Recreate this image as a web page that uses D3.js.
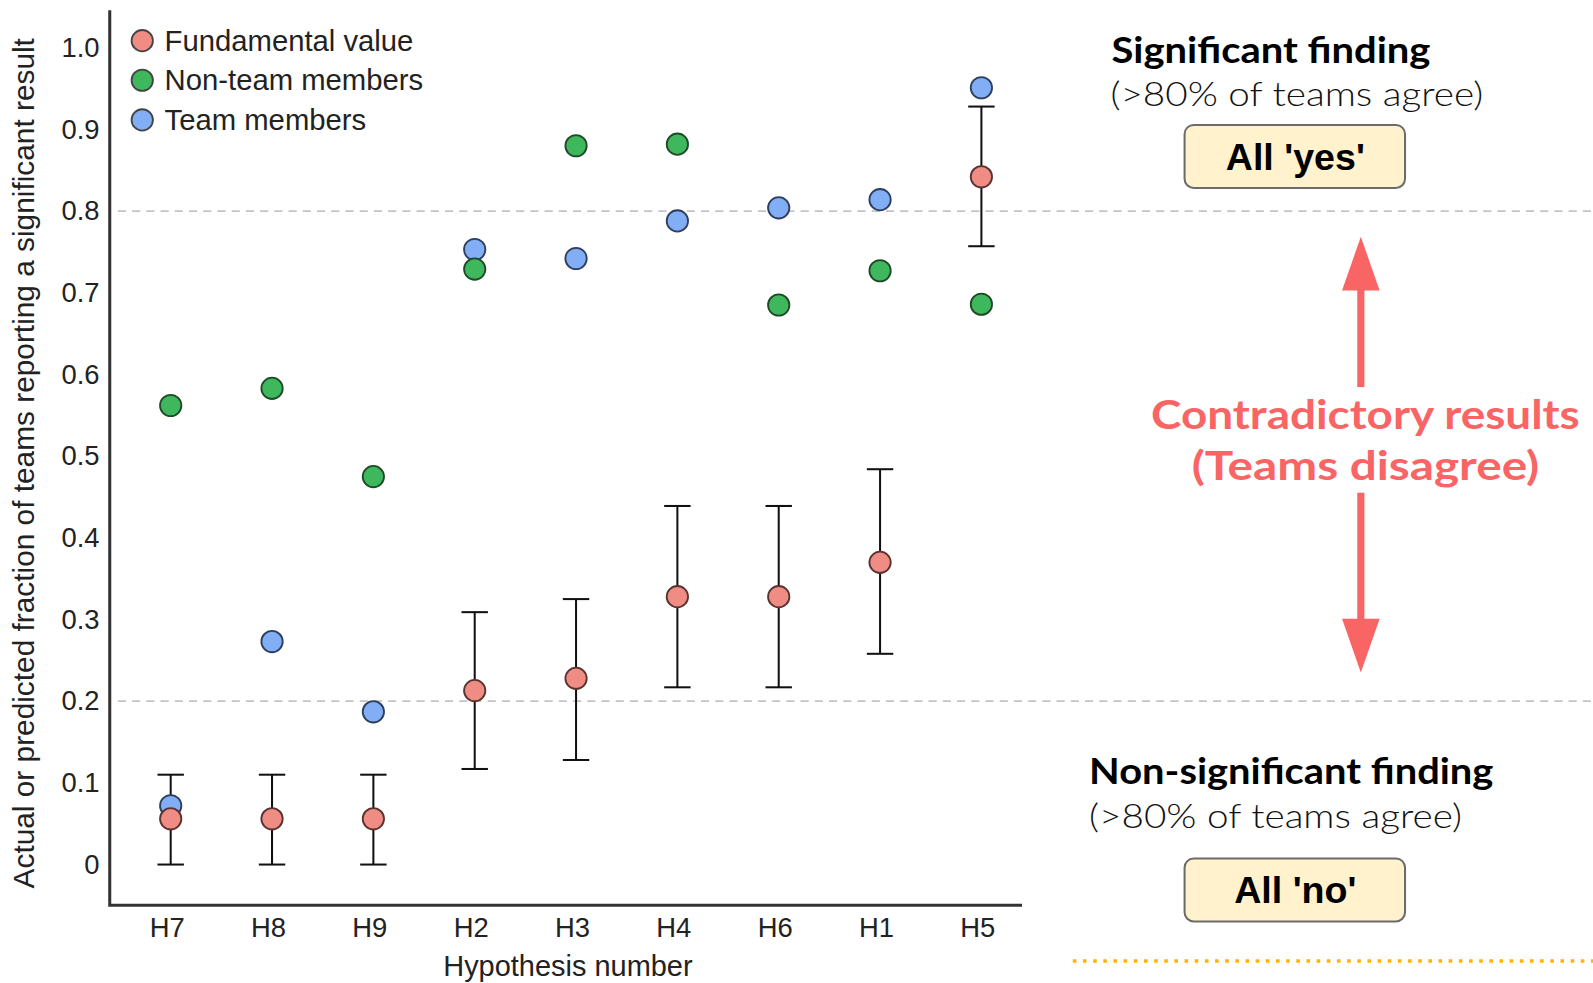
<!DOCTYPE html>
<html>
<head>
<meta charset="utf-8">
<script src="https://cdnjs.cloudflare.com/ajax/libs/d3/7.8.5/d3.min.js"></script>
<style>
  body { margin: 0; background: #fff; }
  svg { display: block; }
</style>
</head>
<body>
<svg id="chart" width="1593" height="983" viewBox="0 0 1568 967.6"></svg>
<script>
// hypotheses in plotted order
const hypotheses = ["H7", "H8", "H9", "H2", "H3", "H4", "H6", "H1", "H5"];
const fundamental = [0.056, 0.056, 0.056, 0.213, 0.228, 0.328, 0.328, 0.370, 0.842];
const fundLow =     [0.0,   0.0,   0.0,   0.117, 0.128, 0.217, 0.217, 0.258, 0.757];
const fundHigh =    [0.11,  0.11,  0.11,  0.309, 0.325, 0.439, 0.439, 0.484, 0.928];
const nonTeam =     [0.562, 0.583, 0.475, 0.729, 0.880, 0.882, 0.685, 0.727, 0.686];
const teamMembers = [0.072, 0.273, 0.187, 0.753, 0.742, 0.788, 0.804, 0.814, 0.951];
const yTicks = [0, 0.1, 0.2, 0.3, 0.4, 0.5, 0.6, 0.7, 0.8, 0.9, 1.0];
const thresholds = [0.2, 0.8];
const legendItems = ["Fundamental value", "Non-team members", "Team members"];

const colors = { fund: "#ef8c84", non: "#3fb75c", team: "#82aef5" };
const legendColors = [colors.fund, colors.non, colors.team];

const svg = d3.select("#chart");
const sans = "'Liberation Sans', Arial, Helvetica, sans-serif";
const raleway = "Lato, 'Open Sans', sans-serif";

let x = d3.scalePoint().domain(hypotheses).range([168, 966]);
let y = d3.scaleLinear().domain([0, 1]).range([851, 47]);

// dashed threshold lines, run across the whole picture
svg.selectAll(".thr").data(thresholds).enter()
  .append("line")
  .attr("x1", 116).attr("x2", 1568)
  .attr("y1", d => y(d)).attr("y2", d => y(d))
  .attr("stroke", "#c4c4c4").attr("stroke-width", 1.6)
  .attr("stroke-dasharray", "8,6");

// axes (labels only, no ticks)
let yAxis = svg.append("g")
  .attr("transform", "translate(108,0)")
  .call(d3.axisLeft(y).tickValues(yTicks).tickSize(0).tickPadding(10)
    .tickFormat(d => d === 0 ? "0" : d3.format(".1f")(d)));
yAxis.select(".domain").remove();
yAxis.selectAll("text").style("font-family", sans).style("font-size", "27px").attr("fill", "#222");

let xAxis = svg.append("g")
  .attr("transform", "translate(0,891)")
  .call(d3.axisBottom(x).tickSize(0).tickPadding(12));
xAxis.select(".domain").remove();
xAxis.selectAll("text").style("font-family", sans).style("font-size", "27px").attr("fill", "#222")
  .attr("dx", -4);

// axis lines
svg.append("path")
  .attr("d", "M108,10V891H1006")
  .attr("fill", "none").attr("stroke", "#333").attr("stroke-width", 3);

// axis titles
svg.append("text")
  .attr("transform", "translate(33,456) rotate(-90)")
  .attr("text-anchor", "middle")
  .style("font-family", sans).style("font-size", "29px").attr("fill", "#222")
  .attr("textLength", 837).attr("lengthAdjust", "spacingAndGlyphs")
  .text("Actual or predicted fraction of teams reporting a significant result");

svg.append("text")
  .attr("x", 559).attr("y", 961)
  .attr("text-anchor", "middle")
  .style("font-family", sans).style("font-size", "28.5px").attr("fill", "#222")
  .text("Hypothesis number");

// error bars for fundamental value
let bars = svg.append("g").attr("stroke", "#111").attr("stroke-width", 2);
hypotheses.forEach((h, i) => {
  let cx = x(h);
  bars.append("line").attr("x1", cx).attr("x2", cx).attr("y1", y(fundLow[i])).attr("y2", y(fundHigh[i]));
  bars.append("line").attr("x1", cx - 13).attr("x2", cx + 13).attr("y1", y(fundLow[i])).attr("y2", y(fundLow[i]));
  bars.append("line").attr("x1", cx - 13).attr("x2", cx + 13).attr("y1", y(fundHigh[i])).attr("y2", y(fundHigh[i]));
});

function drawDots(values, fill, stroke) {
  svg.append("g").selectAll("circle").data(values).enter()
    .append("circle")
    .attr("cx", (d, i) => x(hypotheses[i]))
    .attr("cy", d => y(d))
    .attr("r", 10.5)
    .attr("fill", fill)
    .attr("stroke", stroke)
    .attr("stroke-width", 1.8);
}
drawDots(teamMembers, colors.team, "#2d3f5c");
drawDots(nonTeam, colors.non, "#1f4a2a");
drawDots(fundamental, colors.fund, "#5a3330");

// legend
let legend = svg.append("g");
legendItems.forEach((t, i) => {
  legend.append("circle").attr("cx", 140).attr("cy", 40 + i * 39).attr("r", 10.5)
    .attr("fill", legendColors[i]).attr("stroke", "#444").attr("stroke-width", 1.8);
  legend.append("text").attr("x", 162).attr("y", 40 + i * 39).attr("dy", "0.35em")
    .style("font-family", sans).style("font-size", "28.8px").attr("fill", "#222").text(t);
});

// right-side annotations
function label(txt, xPos, yPos, len, weight, size, fill, anchor) {
  svg.append("text").attr("x", xPos).attr("y", yPos)
    .attr("text-anchor", anchor || "start")
    .attr("textLength", len).attr("lengthAdjust", "spacingAndGlyphs")
    .style("font-family", raleway).style("font-weight", weight).style("font-size", size + "px")
    .attr("fill", fill).text(txt);
}
function box(txt, yTop) {
  svg.append("rect").attr("x", 1166).attr("y", yTop).attr("width", 217).attr("height", 62)
    .attr("rx", 9).attr("fill", "#fff2cc").attr("stroke", "#6b6b6b").attr("stroke-width", 2);
  svg.append("text").attr("x", 1275).attr("y", yTop + 31).attr("dy", "0.36em")
    .attr("text-anchor", "middle")
    .style("font-family", sans).style("font-weight", 700).style("font-size", "37px")
    .attr("fill", "#000").text(txt);
}

label("Significant finding", 1094, 62, 314, 700, 35, "#000");
label("(>80% of teams agree)", 1093, 104, 367, 300, 32, "#111");
box("All 'yes'", 123);

label("Non-significant finding", 1072, 772, 398, 700, 35, "#000");
label("(>80% of teams agree)", 1072, 815, 367, 300, 32, "#111");
box("All 'no'", 845);

// contradictory arrows
const arrowRed = "#f96464";
svg.append("rect").attr("x", 1336).attr("y", 283).attr("width", 7).attr("height", 98).attr("fill", arrowRed);
svg.append("path").attr("d", "M1339.5,233L1358,286H1321Z").attr("fill", arrowRed);
svg.append("rect").attr("x", 1336).attr("y", 485).attr("width", 7).attr("height", 137).attr("fill", arrowRed);
svg.append("path").attr("d", "M1339.5,662L1358,609H1321Z").attr("fill", arrowRed);

label("Contradictory results", 1133, 422, 422, 700, 40, arrowRed);
label("(Teams disagree)", 1173, 472, 342, 700, 40, arrowRed);

// dotted orange line at bottom right
svg.append("line").attr("x1", 1056).attr("x2", 1568).attr("y1", 946).attr("y2", 946)
  .attr("stroke", "#ffb400").attr("stroke-width", 3.5).attr("stroke-dasharray", "3.5,6.5");
</script>
</body>
</html>
